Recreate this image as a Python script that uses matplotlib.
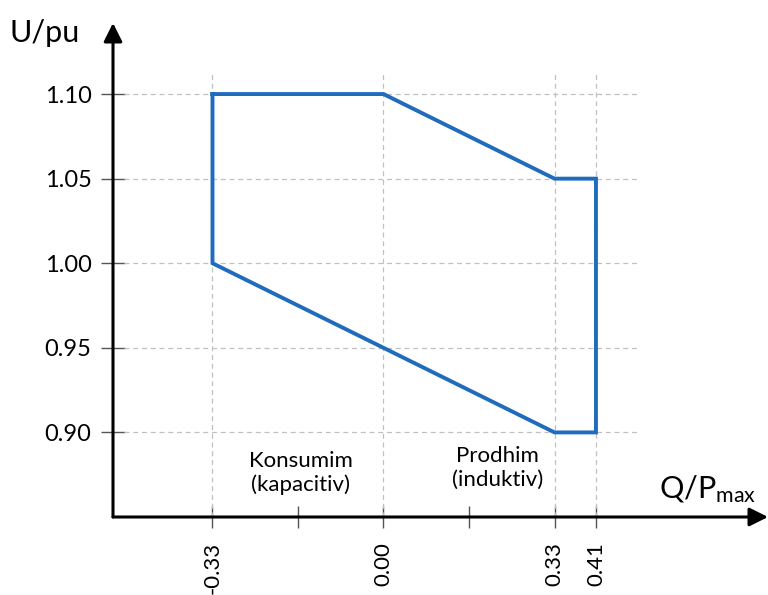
import matplotlib.pyplot as plt

plt.rcParams['font.family'] = ['Lato', 'DejaVu Sans']
plt.rcParams['mathtext.fontset'] = 'custom'
plt.rcParams['mathtext.rm'] = 'Lato'
plt.rcParams['mathtext.it'] = 'Lato'

# operating area corners (Q/Pmax, U/pu), clockwise
q_vals = [-0.33, 0.00, 0.33, 0.41, 0.41, 0.33, 0.00, -0.33, -0.33]
u_vals = [1.10, 1.10, 1.05, 1.05, 0.90, 0.90, 0.95, 1.00, 1.10]

x_ticks = [-0.33, 0.00, 0.33, 0.41]
x_labels = ['-0.33', '0.00', '0.33', '0.41']
x_minor = [-0.165, 0.165]
y_ticks = [0.90, 0.95, 1.00, 1.05, 1.10]
y_labels = ['0.90', '0.95', '1.00', '1.05', '1.10']

xmin, xmax = -0.522, 0.742
ymin, ymax = 0.85, 1.142

fig = plt.figure(figsize=(7.68, 5.95), dpi=100)
ax = fig.add_axes([113 / 768, 78 / 595, 1 - 113 / 768, (517 - 23) / 595])
ax.set_xlim(xmin, xmax)
ax.set_ylim(ymin, ymax)
for s in ax.spines.values():
    s.set_visible(False)

# dashed grid
ax.vlines(x_ticks, ymin, 1.113, colors='#c0c0c0', linestyles=(0, (4, 3)), lw=0.9)
ax.hlines(y_ticks, -0.50, 0.49, colors='#c0c0c0', linestyles=(0, (4, 3)), lw=0.9)

ax.plot(q_vals, u_vals, color='#1f6bbd', lw=2.8, solid_joinstyle='miter')

# axes with arrows
for tip in [(xmax, ymin), (xmin, ymax)]:
    ax.annotate('', xy=tip, xytext=(xmin, ymin),
                arrowprops=dict(arrowstyle='-|>', lw=2.2, color='black',
                                mutation_scale=28, shrinkA=0, shrinkB=0),
                annotation_clip=False)

ax.set_xticks(x_ticks)
ax.set_xticklabels(x_labels)
ax.set_xticks(x_minor, minor=True)
ax.set_yticks(y_ticks)
ax.set_yticklabels(y_labels)
ax.tick_params(axis='x', which='both', direction='inout', length=16, width=1,
               color='#555555', labelrotation=90, pad=10, labelsize=16)
ax.tick_params(axis='y', direction='inout', length=17, width=1,
               color='#555555', pad=7, labelsize=17)

fig.text(10 / 768, 1 - 42 / 595, 'U/pu', fontsize=22, ha='left', va='baseline')
fig.text(659 / 768, 1 - 498 / 595, 'Q/P$_{\\mathrm{max}}$', fontsize=22,
         ha='left', va='baseline')

ax.text(-0.16, 0.876, 'Konsumim\n(kapacitiv)', fontsize=16, ha='center', va='center',
        linespacing=1.2)
ax.text(0.22, 0.879, 'Prodhim\n(induktiv)', fontsize=16, ha='center', va='center',
        linespacing=1.2)

fig.savefig('out.png', dpi=100)
